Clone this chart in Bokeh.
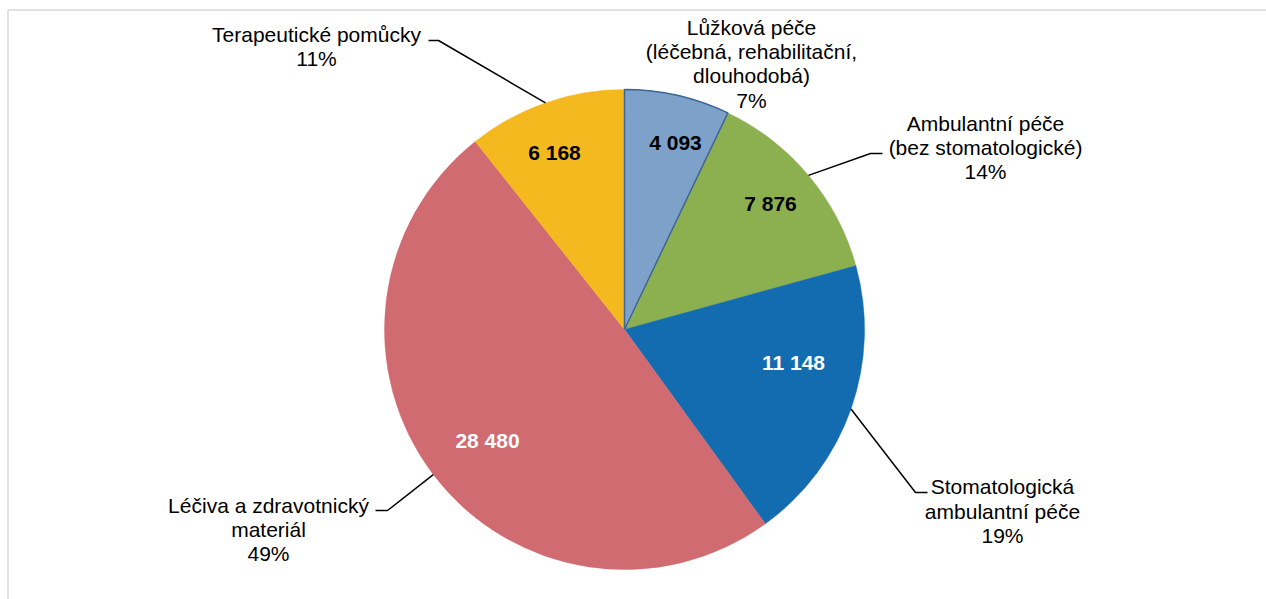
import math
from bokeh.plotting import figure
from bokeh.models import Range1d, ColumnDataSource
from bokeh.core.properties import value
from bokeh.embed import file_html
from bokeh.resources import INLINE

# ---- data ----
categories = [
    "Lůžková péče\n(léčebná, rehabilitační,\ndlouhodobá)",
    "Ambulantní péče\n(bez stomatologické)",
    "Stomatologická\nambulantní péče",
    "Léčiva a zdravotnický\nmateriál",
    "Terapeutické pomůcky",
]
values = [4093, 7876, 11148, 28480, 6168]
colors = ["#7ea1c9", "#8cb04f", "#136bb0", "#d06b71", "#f5b920"]
value_text_colors = ["black", "black", "white", "white", "black"]

# ---- layout (page pixel coordinates) ----
W, H = 1266, 599
def px(x):
    return x
def py(y):
    return H - y

CX, CY, R = px(624), py(329), 240
FONT = value("Liberation Sans")
FS = "21px"

# category label placement: (center x, [line y...], percent y)
cat_pos = [
    (751, [27, 51, 75], 100),
    (985, [123, 147], 171),
    (1002, [486, 510.5], 535),
    (268, [505, 529], 553),
    (316, [34], 58),
]
# value label placement
val_pos = [(675, 142), (770, 203), (793, 362), (487, 440), (554, 152)]
# leader line corner and end points (None = no leader)
leaders = [
    None,
    [(870, 153), (882, 153)],
    [(915, 492), (927, 492)],
    [(387, 510), (375, 510)],
    [(438, 40), (428, 40)],
]

p = figure(width=W, height=H, output_backend="svg", toolbar_location=None,
           x_range=Range1d(0, W), y_range=Range1d(0, H),
           x_axis_location=None, y_axis_location=None,
           min_border=0, outline_line_color=None)
p.grid.visible = False
p.background_fill_color = "white"
p.border_fill_color = "white"

# chart-area border (top and left visible in window)
p.segment(x0=[7.5, 7.5], y0=[py(9.5), py(9.5)], x1=[W, 7.5], y1=[py(9.5), 0],
          line_color="#d9d9d9", line_width=1.5)

total = sum(values)
starts, ends, mids = [], [], []
cum = 0
for v in values:
    a0 = math.pi / 2 - cum / total * 2 * math.pi
    cum += v
    a1 = math.pi / 2 - cum / total * 2 * math.pi
    starts.append(a1)
    ends.append(a0)
    mids.append((a0 + a1) / 2)

src = ColumnDataSource(dict(
    x=[CX] * len(values), y=[CY] * len(values),
    start=starts, end=ends, color=colors,
))
p.wedge(x="x", y="y", radius=R, start_angle="start", end_angle="end",
        direction="anticlock", fill_color="color", line_color="color",
        line_width=0.5, source=src)
# outline of first slice
p.wedge(x=[CX], y=[CY], radius=R, start_angle=[starts[0]], end_angle=[ends[0]],
        direction="anticlock", fill_color=None, line_color="#3d6699", line_width=1.5)

# leader lines
for i, ld in enumerate(leaders):
    if ld is None:
        continue
    sx = CX + R * math.cos(mids[i])
    sy = CY + R * math.sin(mids[i])
    xs = [sx] + [px(a) for a, b in ld]
    ys = [sy] + [py(b) for a, b in ld]
    p.line(xs, ys, line_color="black", line_width=1.5)

# category labels
for i, cat in enumerate(categories):
    x, lines_y, pct_y = cat_pos[i]
    lines = cat.split("\n")
    pct = f"{round(values[i] / total * 100)}%"
    p.text(x=[px(x)] * (len(lines) + 1),
           y=[py(yy) for yy in lines_y] + [py(pct_y)],
           text=lines + [pct], text_align="center", text_baseline="middle",
           text_font=FONT, text_font_size=FS, text_color="black")

# value labels
for i, v in enumerate(values):
    x, y = val_pos[i]
    p.text(x=[px(x)], y=[py(y)], text=[f"{v:,}".replace(",", " ")],
           text_align="center", text_baseline="middle", text_font=FONT,
           text_font_size=FS, text_font_style="bold",
           text_color=value_text_colors[i])

open("out.html", "w").write(file_html(p, INLINE))
